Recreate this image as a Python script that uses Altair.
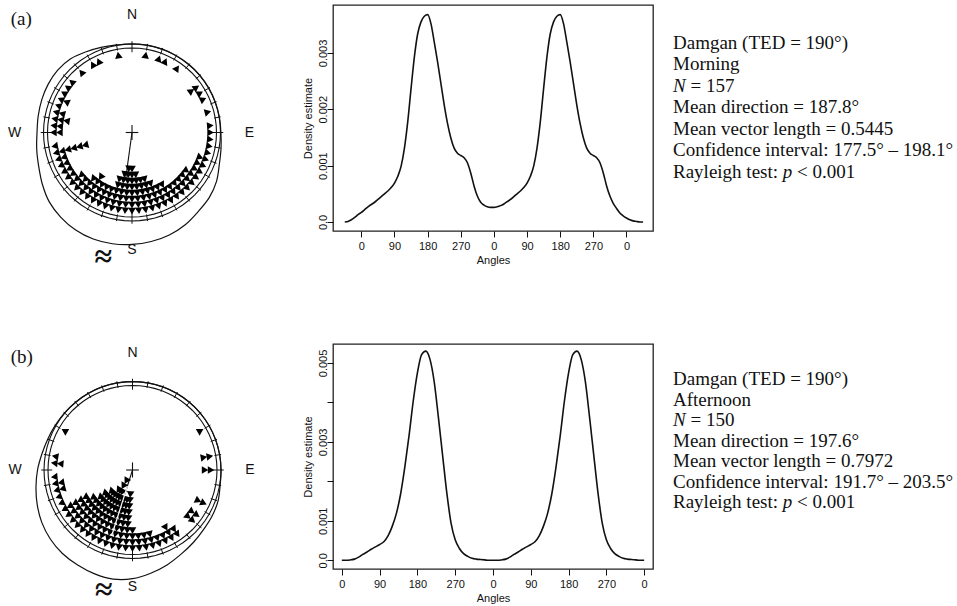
import json
import numpy as np
import pandas as pd
import altair as alt

# ---------------- data ----------------
# Stacked headings: 5-degree bin centres (degrees clockwise from north) and counts per bin
bins_morning = [10, 20, 25, 35, 55, 60, 65, 75, 85, 90, 95, 100, 105, 110, 115, 120,
                125, 130, 135, 140, 145, 150, 155, 160, 165, 170, 175, 180, 185, 190,
                195, 200, 205, 210, 215, 220, 225, 230, 235, 240, 245, 250, 255, 260,
                270, 275, 280, 285, 290, 295, 300, 305, 310, 320, 330, 335, 350]
counts_morning = [1, 1, 1, 1, 2, 1, 1, 1, 1, 1, 1, 1, 1, 2, 2, 2,
                  3, 3, 3, 3, 3, 4, 4, 5, 6, 6, 7, 8, 8, 7,
                  6, 4, 4, 4, 5, 4, 3, 3, 2, 2, 2, 2, 6, 1,
                  2, 2, 3, 2, 1, 2, 1, 1, 1, 1, 1, 1, 1]

bins_afternoon = [60, 80, 90, 115, 125, 130, 145, 150, 155, 160, 165, 170, 175, 180,
                  185, 190, 195, 200, 205, 210, 215, 220, 225, 230, 235, 240, 245, 250,
                  255, 260, 265, 275, 280, 300]
counts_afternoon = [1, 2, 2, 2, 2, 2, 2, 3, 2, 2, 3, 3, 3, 4,
                    10, 9, 9, 9, 10, 12, 10, 9, 9, 8, 6, 5, 1, 1,
                    2, 2, 1, 2, 1, 1]

mean_dir_morning, rho_morning = 187.8, 0.5445
mean_dir_afternoon, rho_afternoon = 197.6, 0.7972

# Radius of the smoothed circular density outline (unit = reference circle), every 10 degrees
outline_bearings = [0, 10, 20, 30, 40, 50, 60, 70, 80, 90, 100, 110, 120, 130, 140, 150, 160, 170,
                    180, 190, 200, 210, 220, 230, 240, 250, 260, 270, 280, 290, 300, 310, 320, 330,
                    340, 350]
outline_morning = [1.05, 1.05, 1.05, 1.05, 1.05, 1.05, 1.05, 1.05, 1.05, 1.052, 1.07, 1.10,
                   1.155, 1.195, 1.22, 1.26, 1.29, 1.31, 1.325, 1.337, 1.342, 1.333, 1.31, 1.278,
                   1.225, 1.175, 1.145, 1.124, 1.127, 1.136, 1.145, 1.148, 1.136, 1.10, 1.071, 1.052]
outline_afternoon = [1.047, 1.047, 1.047, 1.047, 1.047, 1.047, 1.047, 1.047, 1.047, 1.048, 1.053,
                     1.077, 1.088, 1.097, 1.12, 1.15, 1.195, 1.24, 1.286, 1.311, 1.308, 1.298, 1.29,
                     1.27, 1.24, 1.20, 1.16, 1.124, 1.089, 1.068, 1.056, 1.05, 1.047, 1.047, 1.047,
                     1.047]

# Linear density estimates drawn over two turns of the circle
angles_morning = list(range(-45, 766, 9))
density_morning = [
    0.00000, 0.00001, 0.00004, 0.00008, 0.00013, 0.00017,
    0.00022, 0.00027, 0.00031, 0.00035, 0.00040, 0.00045, 0.00050, 0.00055, 0.00061, 0.00069,
    0.00081, 0.00099, 0.00131, 0.00178, 0.00237, 0.00293, 0.00334, 0.00355, 0.00365, 0.00368,
    0.00352, 0.00319, 0.00284, 0.00246, 0.00208, 0.00175, 0.00149, 0.00131, 0.00122, 0.00118,
    0.00114, 0.00105, 0.00087, 0.00064, 0.00046, 0.00035, 0.00030, 0.00027, 0.00026, 0.00026,
    0.00027, 0.00029, 0.00032, 0.00036, 0.00040, 0.00045, 0.00050, 0.00055, 0.00061, 0.00069,
    0.00081, 0.00099, 0.00131, 0.00178, 0.00237, 0.00293, 0.00334, 0.00355, 0.00365, 0.00368,
    0.00352, 0.00319, 0.00284, 0.00246, 0.00208, 0.00175, 0.00149, 0.00131, 0.00122, 0.00118,
    0.00114, 0.00105, 0.00087, 0.00064, 0.00046, 0.00033, 0.00024, 0.00016, 0.00011, 0.00007,
    0.00004, 0.00002, 0.00001, 0.00000, 0.00000]

angles_afternoon = list(range(0, 721, 10))
density_afternoon = [
    0.00000, 0.00000, 0.00001, 0.00003, 0.00008, 0.00015, 0.00021, 0.00028, 0.00034, 0.00040,
    0.00047, 0.00062, 0.00086, 0.00119, 0.00168, 0.00236, 0.00315, 0.00403, 0.00475, 0.00521,
    0.00530, 0.00509, 0.00452, 0.00362, 0.00266, 0.00171, 0.00095, 0.00052, 0.00030, 0.00017,
    0.00010, 0.00005, 0.00003, 0.00002, 0.00001, 0.00000, 0.00000,
    0.00000, 0.00001, 0.00003, 0.00008, 0.00015, 0.00021, 0.00028, 0.00034, 0.00040,
    0.00047, 0.00062, 0.00086, 0.00119, 0.00168, 0.00236, 0.00315, 0.00403, 0.00475, 0.00521,
    0.00530, 0.00509, 0.00452, 0.00362, 0.00266, 0.00171, 0.00095, 0.00052, 0.00030, 0.00017,
    0.00010, 0.00005, 0.00003, 0.00002, 0.00001, 0.00000, 0.00000]

xticks = [0, 90, 180, 270, 360, 450, 540, 630, 720]
xtick_labels = ["0", "90", "180", "270", "0", "90", "180", "270", "0"]
yticks_morning = [0, 0.001, 0.002, 0.003]
ytick_labels_morning = ["0.0", "0.001", "0.002", "0.003"]
yticks_afternoon = [0, 0.001, 0.002, 0.003, 0.004, 0.005]
ytick_labels_afternoon = ["0.0", "0.001", "", "0.003", "", "0.005"]

info_morning = ["Damgan (TED = 190°)", "Morning", "N = 157", "Mean direction = 187.8°",
                "Mean vector length =  0.5445", "Confidence interval: 177.5° – 198.1°",
                "Rayleigh test: p < 0.001"]
info_afternoon = ["Damgan (TED = 190°)", "Afternoon", "N = 150", "Mean direction = 197.6°",
                  "Mean vector length =  0.7972", "Confidence interval: 191.7° – 203.5°",
                  "Rayleigh test: p < 0.001"]
ITALIC_TERMS = {"N", "p"}

# ---------------- styling ----------------
SANS = "Liberation Sans"
SERIF = "Liberation Serif"
INK = "#111111"
PX = 84.5            # pixels per unit radius of the reference circle
INFO_FS = 19

# Times-compatible advance widths (per em) for placing italic symbols inline
_W = {" ": .25, "R": .667, "a": .444, "y": .5, "l": .278, "e": .444, "i": .278, "g": .5,
      "h": .5, "t": .278, "s": .389, ":": .278, "=": .564, "<": .564, ".": .25}
_WI = {"N": .667, "p": .5}


def text_width(s, italic):
    table = _WI if italic else _W
    return sum(table.get(c, 0.5) for c in s)


def polar(bearing, r):
    t = np.radians(np.asarray(bearing, dtype=float))
    return np.asarray(r) * np.sin(t), np.asarray(r) * np.cos(t)


def circle_panel(tag, bins, counts, mean_dir, rho, outline, width, height, cx, cy,
                 white_arrow, approx_y):
    xs = alt.Scale(domain=[-cx / PX, (width - cx) / PX], nice=False, zero=False)
    ys = alt.Scale(domain=[-(height - cy) / PX, cy / PX], nice=False, zero=False)

    def enc(**extra):
        e = dict(x=alt.X("x:Q", scale=xs, axis=None), y=alt.Y("y:Q", scale=ys, axis=None))
        e.update(extra)
        return e

    # double reference ring
    ang = np.arange(0, 361, 5)
    ring = pd.concat([
        pd.DataFrame({"ring": k, "i": np.arange(len(ang)),
                      "x": polar(ang, r)[0], "y": polar(ang, r)[1]})
        for k, r in enumerate([1.0, 1.047])])
    ring_layer = alt.Chart(ring).mark_line(color=INK, strokeWidth=1.1).encode(
        **enc(order="i:Q", detail="ring:N"))

    # 10-degree ticks across the ring, longer at the cardinal points
    tb = np.arange(0, 360, 10)
    r_in = np.where(tb % 90 == 0, 0.95, 0.985)
    r_out = np.where(tb % 90 == 0, 1.08, 1.065)
    x1, y1 = polar(tb, r_in)
    x2, y2 = polar(tb, r_out)
    ticks = pd.DataFrame({"x": x1, "y": y1, "x2": x2, "y2": y2})
    tick_layer = alt.Chart(ticks).mark_rule(color=INK, strokeWidth=1).encode(
        **enc(x2="x2:Q", y2="y2:Q"))

    # smoothed density outline
    ob = list(outline_bearings) + [360]
    orad = list(outline) + [outline[0]]
    ox, oy = polar(ob, orad)
    out_df = pd.DataFrame({"i": np.arange(len(ob)), "x": ox, "y": oy})
    outline_layer = alt.Chart(out_df).mark_line(
        color=INK, strokeWidth=1.2, interpolate="catmull-rom").encode(**enc(order="i:Q"))

    # centre cross and mean direction
    mx, my = polar(mean_dir, rho)
    segs = pd.DataFrame({"x": [-0.075, 0.0, 0.0], "y": [0.0, -0.09, 0.0],
                         "x2": [0.075, 0.0, float(mx)], "y2": [0.0, 0.09, float(my)]})
    seg_layer = alt.Chart(segs).mark_rule(color=INK, strokeWidth=1.1).encode(
        **enc(x2="x2:Q", y2="y2:Q"))

    # stacked observations, each triangle pointing outwards
    rows = []
    for b, c in zip(bins, counts):
        for k in range(c):
            r = 0.93 - 0.071 * k
            px, py = polar(b, r)
            rows.append({"bearing": b, "x": float(px), "y": float(py)})
    pts = pd.DataFrame(rows)
    pt_layer = alt.Chart(pts).mark_point(
        shape="triangle-up", filled=True, size=58, color="black", opacity=1).encode(
        **enc(angle=alt.Angle("bearing:Q", scale=None)))

    layers = [ring_layer, tick_layer, outline_layer, seg_layer, pt_layer]

    if white_arrow:
        wx1, wy1 = polar(mean_dir, 0.2)
        arrow = pd.DataFrame({"x": [float(wx1)], "y": [float(wy1)],
                              "x2": [float(mx)], "y2": [float(my)]})
        layers.append(alt.Chart(arrow).mark_rule(color="white", strokeWidth=1.2).encode(
            **enc(x2="x2:Q", y2="y2:Q")))

    # compass letters
    cb = [0, 90, 180, 270]
    lx, ly = polar(cb, 1.39)
    comp = pd.DataFrame({"label": ["N", "E", "S", "W"], "x": lx, "y": ly})
    layers.append(alt.Chart(comp).mark_text(
        font=SANS, fontSize=14, color=INK, align="center", baseline="middle").encode(
        **enc(text="label:N")))

    one = pd.DataFrame({"t": [0]})
    layers.append(alt.Chart(one).mark_text(
        font=SERIF, fontSize=19, color=INK, align="center", baseline="middle").encode(
        x=alt.datum(-1.31), y=alt.datum(1.34), text=alt.value(tag)))
    layers.append(alt.Chart(one).mark_text(
        font=SERIF, fontSize=32, fontWeight="bold", color=INK, align="center",
        baseline="middle").encode(
        x=alt.datum(-0.34), y=alt.datum(approx_y), text=alt.value("≈")))

    return alt.layer(*layers).properties(width=width, height=height)


def label_expr(values, labels):
    return f"{json.dumps(labels)}[indexof({json.dumps(values)}, datum.value)]"


def density_panel(angles, dens, xdom, ydom, yticks, ylabels, width, height, xlab_pad):
    df = pd.DataFrame({"angle": angles, "density": dens})
    common = dict(domain=False, grid=False, ticks=True, tickColor=INK, tickWidth=1,
                  tickSize=6, labelFont=SANS, labelFontSize=11, labelColor=INK,
                  titleFont=SANS, titleFontSize=11, titleFontWeight="normal",
                  titleColor=INK, labelOverlap=False, labelFlush=False)
    return alt.Chart(df).mark_line(color=INK, strokeWidth=1.6, interpolate="monotone").encode(
        x=alt.X("angle:Q", scale=alt.Scale(domain=xdom, nice=False, zero=False),
                axis=alt.Axis(values=xticks, labelExpr=label_expr(xticks, xtick_labels),
                              title="Angles", labelPadding=xlab_pad, titleY=29,
                              titleBaseline="middle", **common)),
        y=alt.Y("density:Q", scale=alt.Scale(domain=ydom, nice=False, zero=False),
                axis=alt.Axis(values=yticks, labelExpr=label_expr(yticks, ylabels),
                              title="Density estimate", labelAngle=-90, labelAlign="center",
                              labelBaseline="alphabetic", labelPadding=1, titleX=-25,
                              titleBaseline="middle", **common)),
    ).properties(width=width, height=height,
                 view=alt.ViewBackground(stroke="#222222", strokeWidth=1.3))


def info_panel(lines, width, height, first, step):
    rows = []
    for k, line in enumerate(lines):
        buf, start, pos = [], 0.0, 0.0
        for j, w in enumerate(line.split(" ")):
            if j > 0:
                pos += text_width(" ", False) * INFO_FS
            if w in ITALIC_TERMS:
                if buf:
                    rows.append({"k": k, "text": " ".join(buf), "dx": start, "it": False})
                    buf = []
                rows.append({"k": k, "text": w, "dx": pos, "it": True})
                pos += text_width(w, True) * INFO_FS
            else:
                if not buf:
                    start = pos
                buf.append(w)
                pos += text_width(w, False) * INFO_FS
        if buf:
            rows.append({"k": k, "text": " ".join(buf), "dx": start, "it": False})
    df = pd.DataFrame(rows)
    xs = alt.Scale(domain=[0, width], nice=False, zero=False)
    ys = alt.Scale(domain=[-first / step, (height - first) / step], reverse=True,
                   nice=False, zero=False)
    base = alt.Chart(df).encode(
        x=alt.X("dx:Q", scale=xs, axis=None),
        y=alt.Y("k:Q", scale=ys, axis=None),
        text="text:N")
    upright = base.transform_filter("!datum.it").mark_text(
        font=SERIF, fontSize=INFO_FS, color=INK, align="left", baseline="middle")
    italic = base.transform_filter("datum.it").mark_text(
        font=SERIF, fontSize=INFO_FS, fontStyle="italic", color=INK, align="left",
        baseline="middle")
    return alt.layer(upright, italic).properties(width=width, height=height)


panels = [
    circle_panel("(a)", bins_morning, counts_morning, mean_dir_morning, rho_morning,
                 outline_morning, 312, 226, 131, 127.5, False, -1.47),
    density_panel(angles_morning, density_morning, [-77, 792], [-0.00016, 0.00385],
                  yticks_morning, ytick_labels_morning, 320, 226, 3),
    info_panel(info_morning, 280, 226, 37.7, 21.5),
    circle_panel("(b)", bins_afternoon, counts_afternoon, mean_dir_afternoon, rho_afternoon,
                 outline_afternoon, 312, 225, 131.5, 126, True, -1.42),
    density_panel(angles_afternoon, density_afternoon, [-21, 741], [-0.00022, 0.00548],
                  yticks_afternoon, ytick_labels_afternoon, 320, 225, 3.5),
    info_panel(info_afternoon, 280, 225, 35.3, 20.5),
]

chart = alt.concat(
    *panels, columns=3, spacing={"row": 113, "column": 20}, bounds="flush"
).properties(
    padding={"top": 4, "left": 0, "right": 0, "bottom": 0}
).configure_view(stroke="transparent")

chart.save("out.html", embed_options={"renderer": "svg", "actions": False})
